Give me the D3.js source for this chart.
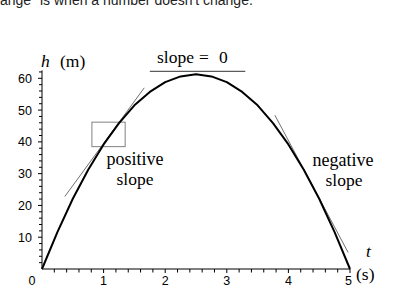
<!DOCTYPE html>
<html><head><meta charset="utf-8">
<script src="https://cdn.jsdelivr.net/npm/d3@7"></script>
<style>
html,body{margin:0;padding:0;background:#fff;}
svg{display:block;}
</style></head>
<body>
<svg id="c" width="397" height="297"></svg>
<script>
// data
const times   = [0, 0.25, 0.5, 0.75, 1, 1.25, 1.5, 1.75, 2, 2.25, 2.5, 2.75, 3, 3.25, 3.5, 3.75, 4, 4.25, 4.5, 4.75, 5];
const heights = [0, 11.6, 22.1, 31.2, 39.2, 45.9, 51.5, 55.7, 58.8, 60.6, 61.25, 60.6, 58.8, 55.7, 51.5, 45.9, 39.2, 31.2, 22.1, 11.6, 0];
const xTicks = [1, 2, 3, 4, 5];
const yTicks = [10, 20, 30, 40, 50, 60];
const posTangentT = [0.37, 1.66];
const posTangentH = [22.8, 57.0];
const negTangentT = [3.78, 4.97];
const negTangentH = [48.4, 5.2];
const flatTangentT = [1.75, 3.3];
const flatTangentH = [62.2, 62.2];
const boxT = [0.81, 1.35];
const boxH = [38.5, 46.2];
const caption = "ange\" is when a number doesn't change.";

const svg = d3.select("#c");
const x = d3.scaleLinear().domain([0, 5]).range([42, 350]);
const y = d3.scaleLinear().domain([0, 60]).range([269, 78.3]);

// cut-off caption at top (as in the reference)
svg.append("text").attr("x", 0).attr("y", 4.5)
  .attr("font-family", "Liberation Sans, Arial, sans-serif").attr("font-size", 14)
  .attr("fill", "#222").text(caption);

// axes
const sans = "Liberation Sans Narrow, Liberation Sans, Arial, sans-serif";
const g = svg.append("g");
g.append("line").attr("x1", x(0)).attr("x2", x(5)).attr("y1", y(0)).attr("y2", y(0)).attr("stroke", "#000");
g.append("line").attr("x1", x(0)).attr("x2", x(0)).attr("y1", y(0)).attr("y2", y(62.5)).attr("stroke", "#000");

const xMinor = d3.range(0.2, 5.01, 0.2);
g.selectAll(".xt").data(xMinor).enter().append("line")
  .attr("x1", d => x(d)).attr("x2", d => x(d))
  .attr("y1", y(0)).attr("y2", d => y(0) + (Math.abs(d - Math.round(d)) < 1e-6 ? 4 : 3.5))
  .attr("stroke", "#000");
const yMinor = d3.range(2, 62.01, 2);
g.selectAll(".yt").data(yMinor).enter().append("line")
  .attr("y1", d => y(d)).attr("y2", d => y(d))
  .attr("x1", x(0)).attr("x2", d => x(0) - (d % 10 === 0 ? 4 : 3))
  .attr("stroke", "#000");

g.selectAll(".xl").data(xTicks).enter().append("text")
  .attr("x", d => x(d) - (d === 5 ? 1.5 : 0)).attr("y", 285)
  .attr("text-anchor", "middle").attr("font-family", sans).attr("font-size", 12.5)
  .text(d => d);
g.selectAll(".yl").data(yTicks).enter().append("text")
  .attr("x", 32).attr("y", d => y(d) + 4.5)
  .attr("text-anchor", "end").attr("font-family", sans).attr("font-size", 12.5)
  .text(d => d);
g.append("text").attr("x", 32).attr("y", 285).attr("text-anchor", "middle")
  .attr("font-family", sans).attr("font-size", 12.5).text("0");

// helper box and tangents
svg.append("rect").attr("x", x(boxT[0])).attr("y", y(boxH[1]))
  .attr("width", x(boxT[1]) - x(boxT[0])).attr("height", y(boxH[0]) - y(boxH[1]))
  .attr("fill", "none").attr("stroke", "#808080").attr("stroke-width", 1);

const lineGen = d3.line().x(d => x(d[0])).y(d => y(d[1]));
svg.append("path").attr("d", lineGen(d3.zip(posTangentT, posTangentH)))
  .attr("stroke", "#707070").attr("stroke-width", 1).attr("fill", "none");
svg.append("path").attr("d", lineGen(d3.zip(negTangentT, negTangentH)))
  .attr("stroke", "#707070").attr("stroke-width", 1).attr("fill", "none");
svg.append("path").attr("d", lineGen(d3.zip(flatTangentT, flatTangentH)))
  .attr("stroke", "#333").attr("stroke-width", 1).attr("fill", "none");

// the curve
svg.append("path").attr("d", lineGen(d3.zip(times, heights)))
  .attr("stroke", "#000").attr("stroke-width", 2).attr("fill", "none")
  .attr("stroke-linejoin", "round");

// labels
const serif = "Liberation Serif, Times New Roman, serif";
function lab(tx, ty, str, anchor, style, size) {
  return svg.append("text").attr("x", tx).attr("y", ty).attr("text-anchor", anchor || "start")
    .attr("font-family", serif).attr("font-size", size || 17.5).attr("font-style", style || "normal")
    .attr("fill", "#000").text(str);
}
lab(41, 67, "h", "start", "italic");
lab(60, 67, "(m)");
lab(157, 62.5, "slope");
lab(199, 62.5, "=");
lab(219, 62.5, "0");
lab(135, 165, "positive", "middle", "normal", 18);
lab(135, 185, "slope", "middle");
lab(343, 166, "negative", "middle", "normal", 18);
lab(344, 186, "slope", "middle");
lab(366, 257, "t", "start", "italic");
lab(356, 280, "(s)");
</script>
</body></html>
